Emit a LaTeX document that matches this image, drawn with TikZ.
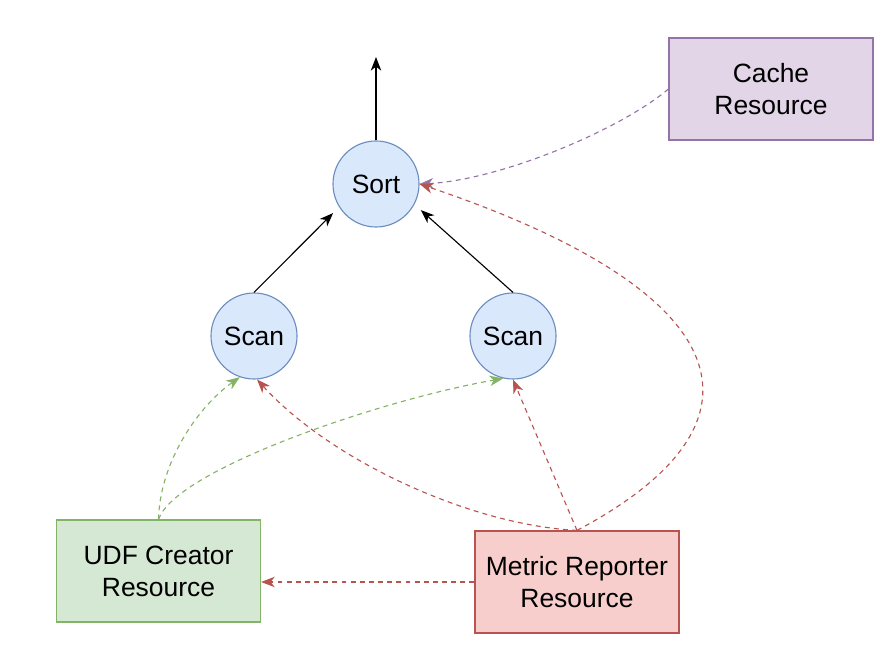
\documentclass[tikz,border=0pt]{standalone}
\usepackage{fontspec}
\setmainfont{Liberation Sans}
\usepackage{xcolor}
\usepackage{tikz}
\usetikzlibrary{arrows.meta, positioning, calc}
\definecolor{opfill}{HTML}{DAE8FC}
\definecolor{opline}{HTML}{6C8EBF}
\definecolor{cachefill}{HTML}{E1D5E7}
\definecolor{cacheline}{HTML}{9673A6}
\definecolor{udffill}{HTML}{D5E8D4}
\definecolor{udfline}{HTML}{82B366}
\definecolor{metricfill}{HTML}{F8CECC}
\definecolor{metricline}{HTML}{B85450}

\begin{document}
\begin{tikzpicture}[
    x=0.025cm, y=-0.025cm,
    every node/.style={font=\fontsize{18.8}{22.7}\selectfont},
    operator/.style={circle, draw=opline, fill=opfill, line width=0.8pt, minimum size=2.15cm, inner sep=0pt},
    resource/.style={draw, line width=0.8pt, minimum width=5.1cm, minimum height=2.55cm, align=center},
    flow/.style={-{Stealth[length=3.4mm, width=2.6mm, inset=1mm]}, line width=0.8pt},
    dep/.style={-{Stealth[length=3.4mm, width=2.6mm, inset=1mm]}, line width=0.8pt, dash pattern=on 3.5pt off 3pt}
]
    \useasboundingbox (0,0) rectangle (890,668);

    % Operators
    \node[operator] (sort) at (376,184) {Sort};
    \node[operator] (scanL) at (254,336) {Scan};
    \node[operator] (scanR) at (513,336) {Scan};
    \coordinate (result) at (376,57);

    % Resources
    \node[resource, draw=cacheline, fill=cachefill] (cache) at (771,89) {Cache\\Resource};
    \node[resource, draw=udfline, fill=udffill] (udf) at (158.5,571) {UDF Creator\\Resource};
    \node[resource, draw=metricline, fill=metricfill] (metric) at (577,582) {Metric Reporter\\Resource};

    % Data flow
    \draw[flow] (sort.north) -- (result);
    \draw[flow, shorten >=6pt] (scanL.north) -- (sort.212);
    \draw[flow, shorten >=6pt] (scanR.north) -- (sort.-28);

    % Resource dependencies
    \draw[dep, cacheline] (cache.west) .. controls (620,130) and (500,180) .. (sort.east);
    \draw[dep, metricline] (metric.north) .. controls (785,420) and (735,290) .. (sort.east);
    \draw[dep, metricline] (metric.north) -- (scanR.south);
    \draw[dep, metricline] (metric.north) .. controls (470,525) and (330,460) .. (scanL.-86);
    \draw[dep, metricline] (metric.west) -- (metric.west -| udf.east);
    \draw[dep, udfline] (udf.north) .. controls (160,460) and (200,405) .. (scanL.-109);
    \draw[dep, udfline] (udf.north) .. controls (175,470) and (380,400) .. (scanR.-103);
\end{tikzpicture}
\end{document}
